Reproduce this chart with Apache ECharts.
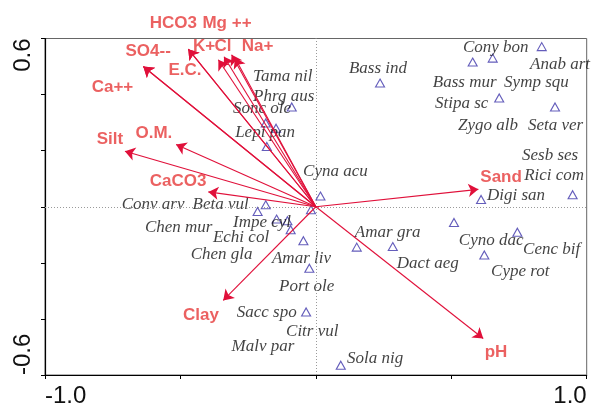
<!DOCTYPE html>
<html>
<head>
<meta charset="utf-8">
<script src="https://cdn.jsdelivr.net/npm/echarts@6/dist/echarts.min.js"></script>
<style>
  html, body { margin: 0; padding: 0; background: #ffffff; }
  #chart { width: 604px; height: 408px; }
</style>
</head>
<body>
<div id="chart"></div>
<script>
// Environmental variables: arrow end points on ordination axes 1 and 2
const envNames = ['Ca++', 'SO4--', 'HCO3', 'E.C.', 'K+', 'Cl', 'Mg ++', 'Na+', 'Silt', 'O.M.', 'CaCO3', 'Clay', 'Sand', 'pH'];
const envX = [-0.637, -0.637, -0.471, -0.471, -0.360, -0.339, -0.311, -0.299, -0.705, -0.516, -0.397, -0.342, 0.600, 0.618];
const envY = [0.500, 0.500, 0.562, 0.562, 0.524, 0.535, 0.542, 0.531, 0.198, 0.222, 0.053, -0.334, 0.062, -0.470];

// Where each environmental label sits (axis units, label centre)
const envLabelX = [-0.751, -0.619, -0.526, -0.483, -0.413, -0.343, -0.328, -0.215, -0.760, -0.598, -0.509, -0.424, 0.684, 0.665];
const envLabelY = [0.427, 0.553, 0.654, 0.488, 0.571, 0.571, 0.654, 0.571, 0.240, 0.261, 0.092, -0.387, 0.104, -0.520];

// Species scores on axes 1 and 2
const spNames = ['Tama nil', 'Phrg aus', 'Sonc ole', 'Lepi pan', 'Cyna acu', 'Bass ind',
  'Cony bon', 'Anab art', 'Bass mur', 'Symp squ', 'Stipa sc', 'Zygo alb', 'Seta ver',
  'Sesb ses', 'Rici com', 'Digi san', 'Cyno dac', 'Cenc bif', 'Cype rot', 'Amar gra',
  'Dact aeg', 'Sola nig', 'Beta vul', 'Conv arv', 'Chen mur', 'Impe cyl', 'Echi col',
  'Amar liv', 'Chen gla', 'Port ole', 'Sacc spo', 'Citr vul', 'Malv par'];
const spX = [-0.089, -0.147, -0.185, -0.181, 0.017, 0.237,
  0.834, 0.834, 0.579, 0.653, 0.677, 0.677, 0.883,
  0.948, 0.948, 0.610, 0.510, 0.744, 0.622, 0.151,
  0.284, 0.092, -0.185, -0.215, -0.145, -0.105, -0.093,
  -0.046, -0.018, -0.024, -0.036, -0.036, -0.036];
const spY = [0.356, 0.280, 0.299, 0.215, 0.038, 0.441,
  0.571, 0.571, 0.516, 0.530, 0.388, 0.388, 0.356,
  0.043, 0.043, 0.026, -0.056, -0.091, -0.172, -0.144,
  -0.142, -0.565, 0.007, -0.017, -0.044, -0.050, -0.082,
  -0.121, -0.011, -0.219, -0.375, -0.375, -0.375];

// Species name anchors (axis units, left edge of the name)
const spLabelX = [-0.232, -0.232, -0.306, -0.298, -0.047, 0.122,
  0.543, 0.791, 0.432, 0.695, 0.440, 0.525, 0.783,
  0.761, 0.769, 0.632, 0.528, 0.765, 0.647, 0.144,
  0.299, 0.115, -0.455, -0.717, -0.631, -0.306, -0.380,
  -0.162, -0.462, -0.136, -0.292, -0.110, -0.311];
const spLabelY = [0.463, 0.394, 0.350, 0.266, 0.127, 0.492,
  0.567, 0.506, 0.443, 0.443, 0.367, 0.290, 0.290,
  0.181, 0.110, 0.039, -0.119, -0.153, -0.231, -0.091,
  -0.204, -0.541, 0.009, 0.009, -0.073, -0.056, -0.109,
  -0.183, -0.172, -0.283, -0.379, -0.446, -0.499];

// Axis tick labels (only the extremes are printed)
const xTickValues = [-1, 1];
const xTickLabels = ['-1.0', '1.0'];
const yTickValues = [-0.6, 0.6];
const yTickLabels = ['-0.6', '0.6'];

const RED_LINE = '#e0103a';
const RED_TEXT = '#e63a3a';
const BLUE = '#3d35aa';

function tickFormatter(values, labels) {
  return function (v) {
    for (let i = 0; i < values.length; i++) {
      if (Math.abs(v - values[i]) < 1e-6) return labels[i];
    }
    return '';
  };
}

// Coincident species share a single drawn triangle
const seen = {};
const speciesData = [];
spNames.forEach((n, i) => {
  const key = spX[i] + ',' + spY[i];
  if (seen[key]) return;
  seen[key] = true;
  speciesData.push({ name: n, value: [spX[i], spY[i]] });
});

const arrowData = envNames.map((n, i) => ({ name: n, coords: [[0, 0], [envX[i], envY[i]]] }));
const envLabelData = envNames.map((n, i) => ({ name: n, value: [envLabelX[i], envLabelY[i]] }));
const speciesLabelData = spNames.map((n, i) => ({ name: n, value: [spLabelX[i], spLabelY[i]] }));

const chart = echarts.init(document.getElementById('chart'), null, { renderer: 'canvas' });

chart.setOption({
  animation: false,
  backgroundColor: '#ffffff',
  grid: { left: 45, right: 17.3, top: 38.5, bottom: 31.3, show: true, borderColor: '#666666', borderWidth: 1, backgroundColor: 'transparent' },
  xAxis: {
    type: 'value', min: -1, max: 1, interval: 0.5,
    axisLine: { onZero: false, lineStyle: { color: '#000000', width: 1.2 } },
    axisTick: { show: true, length: 4, lineStyle: { color: '#000000' } },
    splitLine: { show: false },
    axisLabel: {
      formatter: tickFormatter(xTickValues, xTickLabels),
      fontFamily: 'Liberation Sans, Arial, sans-serif', fontSize: 24, color: '#111111', margin: 9,
      alignMinLabel: 'left', alignMaxLabel: 'right', showMinLabel: true, showMaxLabel: true
    }
  },
  yAxis: {
    type: 'value', min: -0.6, max: 0.6, interval: 0.2,
    axisLine: { onZero: false, lineStyle: { color: '#000000', width: 1.2 } },
    axisTick: { show: true, length: 4, lineStyle: { color: '#000000' } },
    splitLine: { show: false },
    axisLabel: {
      formatter: tickFormatter(yTickValues, yTickLabels),
      rotate: 90,
      fontFamily: 'Liberation Sans, Arial, sans-serif', fontSize: 24, color: '#111111', margin: 10,
      alignMinLabel: 'left', alignMaxLabel: 'right', showMinLabel: true, showMaxLabel: true
    }
  },
  series: [
    {
      // species triangles plus the dotted zero lines
      type: 'scatter',
      data: speciesData,
      symbol: 'triangle',
      symbolSize: [9, 8],
      itemStyle: { color: 'rgba(255,255,255,0)', borderColor: BLUE, borderWidth: 1.1 },
      z: 3,
      markLine: {
        silent: true,
        symbol: ['none', 'none'],
        label: { show: false },
        lineStyle: { color: '#9a9a9a', type: [1, 2], width: 1 },
        data: [{ xAxis: 0 }, { yAxis: 0 }]
      }
    },
    {
      // species names
      type: 'scatter',
      data: speciesLabelData,
      symbolSize: 0,
      silent: true,
      z: 4,
      label: {
        show: true, position: 'right', distance: 0,
        formatter: p => p.name,
        fontFamily: 'Liberation Serif, Times New Roman, serif', fontStyle: 'italic',
        fontSize: 17, color: '#111111'
      }
    },
    {
      // environmental arrows
      type: 'lines',
      coordinateSystem: 'cartesian2d',
      data: arrowData,
      symbol: ['none', 'arrow'],
      symbolSize: 10,
      lineStyle: { color: RED_LINE, width: 1.1, opacity: 1 },
      z: 5
    },
    {
      // environmental labels
      type: 'scatter',
      data: envLabelData,
      symbolSize: 0,
      silent: true,
      clip: false,
      z: 6,
      label: {
        show: true, position: 'inside',
        formatter: p => p.name,
        fontFamily: 'Liberation Sans, Arial, sans-serif', fontWeight: 'bold',
        fontSize: 17, color: RED_TEXT
      }
    }
  ]
});
</script>
</body>
</html>
